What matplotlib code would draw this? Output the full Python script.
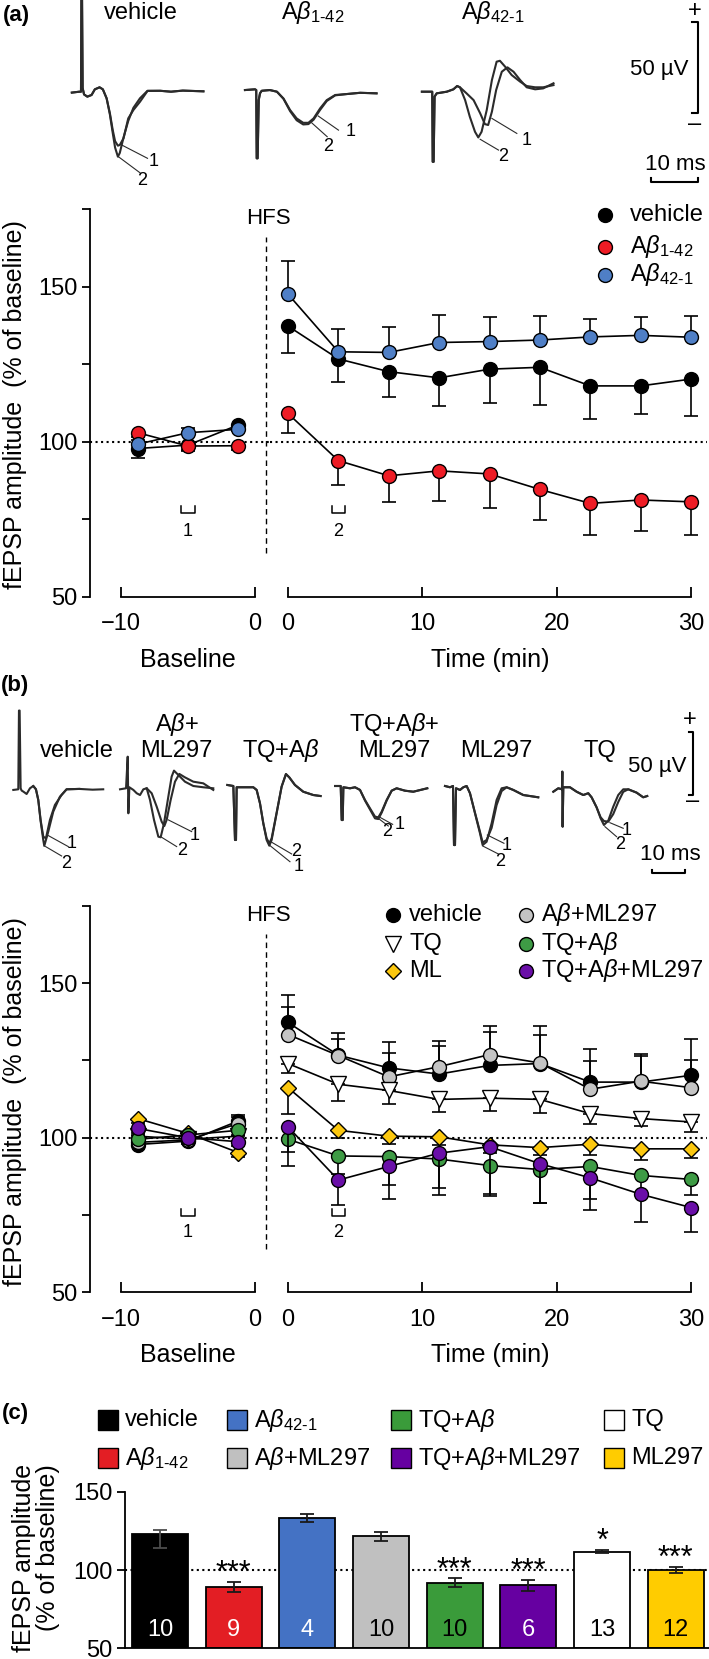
import numpy as np
import matplotlib
matplotlib.use("Agg")
import matplotlib.pyplot as plt
from matplotlib.lines import Line2D
from matplotlib.patches import Rectangle

W, H = 709, 1659

plt.rcParams["font.family"] = ["Liberation Sans", "DejaVu Sans"]
plt.rcParams["mathtext.fontset"] = "custom"
plt.rcParams["mathtext.rm"] = "Liberation Sans"
plt.rcParams["mathtext.it"] = "Liberation Sans:italic"
plt.rcParams["mathtext.bf"] = "Liberation Sans:bold"
plt.rcParams["axes.linewidth"] = 1.3

AB = r"A$\beta$"
AB142 = r"A$\beta_{1\text{-}42}$"
AB421 = r"A$\beta_{42\text{-}1}$"

# ---------------------------------------------------------------------------
# LTP time courses (% of baseline)
# ---------------------------------------------------------------------------
T_BASE = [-8.75, -5.0, -1.25]
T_POST = [0, 3.75, 7.5, 11.25, 15, 18.75, 22.5, 26.25, 30]

VEH_BASE = [97.8, 98.9, 105.4]
VEH_BASE_ERR = [3.2, 1.5, 1.8]
VEH_POST = [137.3, 126.7, 122.6, 120.6, 123.4, 124.0, 118.0, 118.0, 120.2]
VEH_POST_ERR = [8.8, 7.3, 8.3, 9.1, 10.8, 12.0, 10.8, 9.1, 11.9]

AB142_BASE = [102.9, 98.6, 98.7]
AB142_BASE_ERR = [1.5, 1.5, 1.5]
AB142_POST = [109.1, 93.9, 89.0, 90.6, 89.6, 84.6, 80.1, 81.2, 80.6]
AB142_POST_ERR = [6.2, 7.9, 8.6, 9.6, 11.1, 9.9, 10.2, 10.0, 10.7]

AB421_BASE = [99.2, 102.9, 104.0]
AB421_BASE_ERR = [1.5, 1.5, 1.5]
AB421_POST = [147.6, 129.0, 128.8, 132.0, 132.3, 132.8, 133.8, 134.3, 133.7]
AB421_POST_ERR = [10.8, 7.3, 8.3, 8.8, 7.8, 7.7, 5.7, 5.8, 6.8]

ABML_BASE = [98.5, 99.3, 104.6]
ABML_BASE_ERR = [1.5, 1.5, 2.0]
ABML_POST = [133.4, 126.6, 119.7, 123.0, 126.9, 124.2, 115.7, 118.3, 116.2]
ABML_POST_ERR = [9.0, 5.2, 7.6, 8.2, 9.2, 8.9, 9.1, 8.0, 9.1]

TQ_BASE = [100.5, 99.5, 100.5]
TQ_BASE_ERR = [1.5, 1.5, 1.5]
TQ_POST = [124.0, 117.3, 115.3, 112.4, 112.8, 112.4, 107.8, 106.2, 105.1]
TQ_POST_ERR = [3.0, 5.4, 4.5, 4.1, 4.0, 4.4, 3.2, 2.5, 3.2]

ML_BASE = [106.2, 101.4, 95.2]
ML_BASE_ERR = [1.5, 1.5, 1.5]
ML_POST = [116.2, 102.4, 100.5, 100.3, 97.7, 96.8, 97.9, 96.4, 96.4]
ML_POST_ERR = [8.4, 2.5, 2.5, 2.5, 2.5, 2.5, 3.4, 3.5, 3.0]

TQAB_BASE = [99.5, 100.9, 102.4]
TQAB_BASE_ERR = [1.5, 1.5, 1.5]
TQAB_POST = [99.5, 94.1, 93.9, 93.1, 91.0, 89.7, 90.7, 87.8, 86.5]
TQAB_POST_ERR = [8.8, 6.0, 9.2, 9.3, 9.3, 10.7, 10.4, 6.0, 5.0]

TQABML_BASE = [103.0, 100.0, 98.7]
TQABML_BASE_ERR = [1.5, 1.5, 1.5]
TQABML_POST = [103.5, 86.3, 90.7, 95.0, 97.1, 91.6, 87.0, 81.7, 77.4]
TQABML_POST_ERR = [8.0, 8.1, 10.4, 13.6, 16.1, 12.6, 10.4, 9.0, 7.9]

# ---------------------------------------------------------------------------
# bar chart (c): mean LTP 26-30 min
# ---------------------------------------------------------------------------
C_LABELS = ["vehicle", AB142, AB421, AB + "+ML297", "TQ+" + AB,
            "TQ+" + AB + "+ML297", "TQ", "ML297"]
C_VALUES = [123.2, 89.1, 133.4, 121.7, 91.9, 90.2, 111.7, 100.0]
C_ERR_LOW = [9.0, 3.1, 2.3, 2.9, 2.8, 3.8, 1.0, 1.9]
C_ERR_HIGH = [2.6, 3.1, 2.3, 2.9, 2.8, 3.8, 1.0, 1.9]
C_N = [10, 9, 4, 10, 10, 6, 13, 12]
C_STARS = ["", "***", "", "", "***", "***", "*", "***"]
C_COLORS = ["#000000", "#e31e24", "#4472c4", "#c0c0c0", "#3a9b3a",
            "#6600a1", "#ffffff", "#ffcc00"]
C_NUM_COLORS = ["white", "white", "white", "black", "black", "white",
                "black", "black"]

# ---------------------------------------------------------------------------
# example fEPSP traces (ms, uV from baseline)
# ---------------------------------------------------------------------------
VEH_A_T = [-2.1, -0.5, -0.15, -0.05, 0.05, 0.2, 0.5, 1.2, 2.1, 2.8, 3.8, 4.5, 5.3,
           6.0, 6.6, 7.1, 7.7, 8.1, 8.9, 9.9, 11.0, 12.4, 14.0, 16.7, 19.0, 21.5, 25.9]
VEH_A_V1 = [-0.5, 0, 0, 60, 60, 2, -1.5, -2.7, -1.8, 1.3, 2.4, 1.3, -3.6,
            -11.8, -20.9, -27.0, -29.5, -29.1, -25.5, -14.6, -10.0, -5.5, 0.4, 0.5, 0.0, 0.6, 0.2]
VEH_A_V2 = [-0.5, 0, 0, 60, 60, 2, -1.5, -2.7, -1.8, 1.3, 2.4, 1.3, -3.6,
            -12.5, -22.5, -30.5, -35.5, -33.5, -25.0, -16.0, -8.8, -3.6, 0.5, 0.5, 0.0, 0.6, 0.2]

AB142_A_T = [-2.5, -0.35, -0.1, 0.0, 0.2, 0.43, 0.7, 1.06, 2.8, 4.3, 5.7, 7.1, 8.5,
             9.9, 11.0, 12.1, 13.5, 14.9, 16.7, 19.1, 22.0, 25.5]
AB142_A_V1 = [0, 0.4, 0, -37.3, -37.3, -5.5, -1.8, -0.4, 0, -0.9, -4.6, -10.9, -15.5,
              -17.9, -17.9, -15.5, -10.0, -5.5, -2.7, -2.2, -1.5, -1.8]
AB142_A_V2 = [0, 0.4, 0, -37.3, -37.3, -5.5, -1.8, -0.4, 0, -0.9, -4.8, -11.5, -16.5,
              -18.8, -18.6, -16.2, -10.8, -6.0, -2.9, -2.2, -1.5, -1.8]

AB421_A_T1 = [-2.3, -0.5, -0.1, 0.0, 0.2, 0.4, 0.85, 3.0, 4.4, 5.2, 5.8, 7.2, 8.7,
              10.1, 11.1, 11.8, 12.6, 13.5, 14.7, 15.9, 17.2, 18.6, 20.0, 21.8, 23.5, 25.7]
AB421_A_V1 = [0, 0, 0, -38.3, -38.3, -2.7, -0.9, 0, 1.3, 3.1, 2.4, -0.9, -4.6,
              -11.8, -17.7, -18.2, -10.9, 0.9, 10.9, 13.3, 10.9, 6.4, 2.4, 1.3, 1.8, 4.6]
AB421_A_T2 = [-2.3, -0.5, -0.1, 0.0, 0.2, 0.4, 0.85, 3.0, 4.4, 5.2, 5.8, 6.9, 7.9,
              9.0, 9.7, 10.4, 11.5, 12.6, 13.6, 14.3, 15.4, 16.8, 18.6, 20.0, 21.8, 23.5, 25.7]
AB421_A_V2 = [0, 0, 0, -38.3, -38.3, -2.7, -0.9, 0, 1.3, 3.1, 2.4, -4.6, -13.7,
              -21.9, -25.0, -21.9, -10.0, 6.4, 16.4, 16.9, 13.7, 9.1, 5.5, 3.1, 2.4, 2.4, 3.6]

VEH_B_T1 = [-1.8, -0.3, -0.1, 0.1, 0.4, 0.7, 1.2, 2.2, 3.2, 4.2, 5.0, 5.7, 6.4, 7.2,
            8.0, 9.2, 10.7, 12.7, 14.2, 18.0, 22.0, 25.2]
VEH_B_V1 = [-0.5, 0.0, 62.0, 62.0, 0.8, -1.0, -1.8, -3.7, 0.8, 2.6, 0.0, -8.4, -24.1, -37.3,
            -38.6, -24.1, -12.3, -4.5, 0.0, 0.3, -0.3, 0.0]
VEH_B_T2 = [4.2, 5.0, 5.7, 6.4, 7.2, 7.5, 8.7, 10.2, 12.2, 14.2, 18.0]
VEH_B_V2 = [2.6, 0.0, -8.4, -25.0, -40.0, -44.6, -33.3, -17.6, -5.8, 0.0, 0.3]

ABML_B_T1 = [-2.3, -0.5, 0.0, 0.2, 0.5, 1.7, 2.7, 3.7, 4.7, 5.7, 7.2, 8.7, 10.2, 11.0,
             11.7, 12.9, 14.2, 15.5, 17.2, 19.7, 22.7, 25.7]
ABML_B_V1 = [0, 0.8, 25.7, -18.9, 1.6, -0.5, -3.1, -4.5, 0, 0.8, -3.1, -13.6, -25.5, -28.9,
             -24.1, -8.4, 6.0, 12.1, 9.4, 6.0, 4.7, -0.5]
ABML_B_T2 = [5.7, 6.7, 7.9, 9.2, 9.9, 10.9, 12.2, 13.2, 13.9, 15.2, 17.2, 19.7, 22.7, 25.7]
ABML_B_V2 = [0.8, -8.4, -24.1, -37.3, -37.8, -26.8, -5.8, 10.0, 14.7, 11.3, 6.0, 2.6, 1.6, 0.8]

TQAB_B_T = [-2.3, -0.5, 0.0, 0.3, 0.5, 2.5, 5.5, 6.5, 7.5, 8.5, 9.5, 10.3, 11.0, 12.5,
            14.0, 15.3, 16.3, 18.0, 20.5, 23.5, 25.7]
TQAB_B_V1 = [0.8, 0, -42.5, -42.5, -1, -1, -1, -3.1, -13.6, -29.4, -42.5, -47.0, -42.5, -21.5,
             -0.5, 9.4, 6.8, 0.8, -4.5, -7.1, -7.9]
TQAB_B_V2 = [0.8, 0, -42.5, -42.5, -1, -1, -1, -3.1, -13.6, -29.4, -41.2, -45.1, -41.2, -21.0,
             -0.5, 9.4, 6.8, 0.8, -4.5, -7.1, -7.9]

TQABML_B_T = [-2.0, -0.3, 0.0, 0.3, 0.5, 2.5, 4.0, 5.5, 7.0, 8.5, 10.0, 11.0, 12.0, 13.5,
              15.0, 16.5, 19.0, 21.5, 25.7]
TQABML_B_V1 = [0, 0, -26.8, -26.8, -1, -1.8, -1, -3.1, -11, -17.6, -24.1, -24.7, -20.2, -11,
               -3.7, -1.8, -3.7, -4.5, -1.8]
TQABML_B_V2 = [0, 0, -26.8, -26.8, -1, -1.8, -1, -3.1, -11.5, -18.5, -25.5, -26.0, -21.0, -11.5,
               -3.7, -1.8, -3.7, -4.5, -1.8]

ML_B_T = [-2.7, -1.2, -0.3, 0.0, 0.3, 0.6, 1.8, 2.8, 3.8, 4.8, 6.3, 7.8, 8.6, 9.8, 11.3,
          12.8, 14.3, 15.8, 17.8, 20.8, 25.3]
ML_B_V1 = [0, -1, 0, -46.5, -46.5, -1.8, -3.1, -1, 0, -5.7, -21.0, -36.0, -44.5, -42.5, -33.0,
           -15.0, -4.0, -1.0, -3.1, -7.1, -8.9]
ML_B_V2 = [0, -1, 0, -46.5, -46.5, -1.8, -3.1, -1, 0, -5.7, -21.5, -37.2, -46.5, -43.9, -29.4,
           -11, -1.8, -1, -3.1, -7.1, -8.9]

TQ_B_T = [-2.7, -1.2, -0.1, 0.0, 0.1, 0.3, 2.3, 4.3, 6.3, 7.8, 8.8, 10.3, 11.5, 12.5, 13.8,
          15.3, 16.8, 18.3, 19.8, 22.3, 24.3, 25.5]
TQ_B_V1 = [-1.9, 0.8, 0, 13.9, -29.4, 1.6, 1.6, -1.9, -4.5, -3.1, -6.3, -14.2, -22.0, -25.0, -25.5,
           -19.5, -10.0, -2.0, 0, -2.6, -6.3, -5.3]
TQ_B_V2 = [-1.9, 0.8, 0, 13.9, -29.4, 1.6, 1.6, -1.9, -4.5, -3.1, -6.3, -14.2, -22.8, -28.1, -24.7,
           -13.7, -4.5, 0, 0, -2.6, -6.3, -5.3]

SCALE_UV = 50
SCALE_MS = 10


def box(x0, y0, x1, y1):
    # pixel box, origin top-left -> figure rect
    return [x0 / W, 1 - y1 / H, (x1 - x0) / W, (y1 - y0) / H]


def fx(x):
    return x / W


def fy(y):
    return 1 - y / H


fig = plt.figure(figsize=(W / 100, H / 100), dpi=100)
TRACE_COL = "#2b2b2b"


def trace(ax, t, v, t0, dv):
    ax.plot(np.asarray(t) + t0, np.asarray(v) + dv, color=TRACE_COL, lw=1.5,
            solid_joinstyle="round")


def tag(ax, t0, dv, txt, tx, ty, p0, p1):
    ax.plot([p0[0] + t0, p1[0] + t0], [p0[1] + dv, p1[1] + dv], color=TRACE_COL, lw=0.8)
    ax.text(tx + t0, ty + dv, txt, ha="center", va="center", fontsize=13)


def scalebar(ax, tx, vtop, th, vh, tick_t, tick_v):
    ax.plot([tx - tick_t, tx, tx, tx - tick_t], [vtop, vtop, vtop - SCALE_UV, vtop - SCALE_UV],
            color="k", lw=1.5)
    ax.plot([th - SCALE_MS, th - SCALE_MS, th, th], [vh + tick_v, vh, vh, vh + tick_v],
            color="k", lw=1.5)


# ---------------------------------------------------------------------------
# (a) traces
# ---------------------------------------------------------------------------
PX_MS_A, PX_UV_A, BASE_A = 4.7, 1.83, 91.7
ta = fig.add_axes(box(0, 0, W, 200))
ta.set_xlim(0, W / PX_MS_A)
ta.set_ylim(-(200 - BASE_A) / PX_UV_A, BASE_A / PX_UV_A)
ta.axis("off")

t0a = [81.7 / PX_MS_A, 256.7 / PX_MS_A, 432.7 / PX_MS_A]
dva = [0, 0.9, 0]
trace(ta, VEH_A_T, VEH_A_V1, t0a[0], dva[0])
trace(ta, VEH_A_T, VEH_A_V2, t0a[0], dva[0])
tag(ta, t0a[0], dva[0], "1", 15.4, -38.3, (8.5, -29.1), (14.0, -36.4))
tag(ta, t0a[0], dva[0], "2", 12.8, -48.3, (7.8, -35.5), (12.4, -44.3))
trace(ta, AB142_A_T, AB142_A_V1, t0a[1], dva[1])
trace(ta, AB142_A_T, AB142_A_V2, t0a[1], dva[1])
tag(ta, t0a[1], dva[1], "1", 19.9, -22.8, (13.1, -14.2), (17.4, -21.9))
tag(ta, t0a[1], dva[1], "2", 15.2, -31.0, (11.7, -17.9), (15.0, -25.5))
trace(ta, AB421_A_T1, AB421_A_V1, t0a[2], dva[2])
trace(ta, AB421_A_T2, AB421_A_V2, t0a[2], dva[2])
tag(ta, t0a[2], dva[2], "1", 20.0, -26.4, (12.6, -14.6), (17.9, -22.8))
tag(ta, t0a[2], dva[2], "2", 15.0, -35.2, (10.1, -26.0), (14.0, -31.9))
scalebar(ta, 698 / PX_MS_A, (BASE_A - 21.7) / PX_UV_A, 698 / PX_MS_A,
         (BASE_A - 181.7) / PX_UV_A, 1.2, 1.8)

fig.text(fx(16), fy(15), "(a)", fontsize=16, fontweight="bold", ha="center", va="center")
fig.text(fx(141), fy(19), "vehicle", fontsize=17, ha="center", va="baseline")
fig.text(fx(313), fy(19), AB142, fontsize=17, ha="center", va="baseline")
fig.text(fx(493), fy(19), AB421, fontsize=17, ha="center", va="baseline")
fig.text(fx(695), fy(11), "+", fontsize=17, ha="center", va="center")
fig.text(fx(695), fy(124), "\u2013", fontsize=17, ha="center", va="center")
fig.text(fx(689), fy(70), "50 \u00b5V", fontsize=16, ha="right", va="center")
fig.text(fx(675), fy(164), "10 ms", fontsize=16, ha="center", va="center")

# ---------------------------------------------------------------------------
# (b) traces
# ---------------------------------------------------------------------------
PX_MS_B, PX_UV_B, BASE_B = 3.33, 1.27, 789.3
tb = fig.add_axes(box(0, 700, W, 900))
tb.set_xlim(0, W / PX_MS_B)
tb.set_ylim(-(900 - BASE_B) / PX_UV_B, (BASE_B - 700) / PX_UV_B)
tb.axis("off")

t0b = [x / PX_MS_B for x in (19.3, 127.7, 235.0, 341.7, 454.0, 562.3)]
dvb = [0, 0, 2.6, 2.6, 2.6, 0]
trace(tb, VEH_B_T1, VEH_B_V1, t0b[0], dvb[0])
trace(tb, VEH_B_T2, VEH_B_V2, t0b[0], dvb[0])
tag(tb, t0b[0], dvb[0], "1", 15.7, -43.0, (8.4, -36.0), (14.7, -45.1))
tag(tb, t0b[0], dvb[0], "2", 14.2, -58.8, (7.9, -45.1), (12.7, -52.5))
trace(tb, ABML_B_T1, ABML_B_V1, t0b[1], dvb[1])
trace(tb, ABML_B_T2, ABML_B_V2, t0b[1], dvb[1])
tag(tb, t0b[1], dvb[1], "1", 20.2, -36.0, (12.2, -24.1), (19.2, -33.3))
tag(tb, t0b[1], dvb[1], "2", 16.2, -47.8, (10.2, -37.8), (14.7, -45.1))
trace(tb, TQAB_B_T, TQAB_B_V1, t0b[2], dvb[2])
trace(tb, TQAB_B_T, TQAB_B_V2, t0b[2], dvb[2])
tag(tb, t0b[2], dvb[2], "2", 18.5, -51.7, (10.7, -43.8), (17.0, -53.5))
tag(tb, t0b[2], dvb[2], "1", 19.0, -63.5, (10.3, -46.5), (16.5, -59.6))
trace(tb, TQABML_B_T, TQABML_B_V1, t0b[3], dvb[3])
trace(tb, TQABML_B_T, TQABML_B_V2, t0b[3], dvb[3])
tag(tb, t0b[3], dvb[3], "1", 17.5, -30.7, (11.1, -24.1), (15.3, -30.2))
tag(tb, t0b[3], dvb[3], "2", 13.7, -36.0, (11.0, -25.5), (14.0, -31.5))
trace(tb, ML_B_T, ML_B_V1, t0b[4], dvb[4])
trace(tb, ML_B_T, ML_B_V2, t0b[4], dvb[4])
tag(tb, t0b[4], dvb[4], "1", 15.8, -46.5, (10.0, -38.6), (15.0, -45.1))
tag(tb, t0b[4], dvb[4], "2", 14.0, -59.6, (8.6, -47.2), (13.3, -53.5))
trace(tb, TQ_B_T, TQ_B_V1, t0b[5], dvb[5])
trace(tb, TQ_B_T, TQ_B_V2, t0b[5], dvb[5])
tag(tb, t0b[5], dvb[5], "1", 19.3, -32.6, (14.3, -26.3), (18.3, -30.7))
tag(tb, t0b[5], dvb[5], "2", 17.3, -43.1, (12.8, -29.4), (16.3, -37.3))
scalebar(tb, 693.3 / PX_MS_B, (BASE_B - 731.7) / PX_UV_B, 685 / PX_MS_B,
         (BASE_B - 872.7) / PX_UV_B, 1.4, 2.2)

fig.text(fx(15), fy(685), "(b)", fontsize=16, fontweight="bold", ha="center", va="center")
for x, txt in [(76.7, "vehicle"), (176.7, "ML297"), (280.7, "TQ+" + AB),
               (394, "ML297"), (496.7, "ML297"), (600, "TQ")]:
    fig.text(fx(x), fy(757), txt, fontsize=17, ha="center", va="baseline")
fig.text(fx(176.7), fy(731), AB + "+", fontsize=17, ha="center", va="baseline")
fig.text(fx(394), fy(731), "TQ+" + AB + "+", fontsize=17, ha="center", va="baseline")
fig.text(fx(690), fy(720), "+", fontsize=17, ha="center", va="center")
fig.text(fx(693), fy(801), "\u2013", fontsize=17, ha="center", va="center")
fig.text(fx(686.7), fy(766.7), "50 \u00b5V", fontsize=16, ha="right", va="center")
fig.text(fx(670), fy(855), "10 ms", fontsize=16, ha="center", va="center")


# ---------------------------------------------------------------------------
# LTP panels
# ---------------------------------------------------------------------------
def ltp_axes(y_top, y_bot):
    axb = fig.add_axes(box(90, y_top, 270, y_bot))
    axp = fig.add_axes(box(270, y_top, 707, y_bot))
    for ax in (axb, axp):
        ax.set_ylim(50, 175)
        ax.patch.set_visible(False)
        for s in ("top", "right"):
            ax.spines[s].set_visible(False)
        ax.tick_params(axis="x", direction="in", length=7, width=1.3, pad=12, labelsize=17)
        ax.axhline(100, color="k", ls=":", lw=1.5, zorder=1)
    axb.set_xlim(-12.31, 1.12)
    axp.set_xlim(-1.34, 31.19)
    axb.spines["bottom"].set_bounds(-10, 0)
    axp.spines["bottom"].set_bounds(0, 30)
    axb.set_xticks([-10, 0])
    axp.set_xticks([0, 10, 20, 30])
    axb.set_yticks([50, 75, 100, 125, 150, 175])
    axb.set_yticklabels(["50", "", "100", "", "150", ""])
    axb.tick_params(axis="y", direction="out", length=6, width=1.3, pad=3, labelsize=17)
    axp.spines["left"].set_visible(False)
    axp.tick_params(axis="y", left=False, labelleft=False)
    axb.vlines(0.85, 64, 166, colors="k", linestyles=(0, (4, 3)), lw=1.0)
    axb.text(0.97, 172, "HFS", ha="center", va="center", fontsize=16)
    return axb, axp


def one_sided(err, up):
    z = [0] * len(err)
    return [z, err] if up else [err, z]


def series(axb, axp, base, base_err, post, post_err, up, marker, color, ms, z):
    for ax, t, v, e in ((axb, T_BASE, base, base_err), (axp, T_POST, post, post_err)):
        ax.errorbar(t, v, yerr=one_sided(e, up), fmt="none", ecolor="k", elinewidth=1.2,
                    capsize=4.8, capthick=1.2, zorder=z)
        ax.plot(t, v, color="k", lw=1.2, marker=marker, ms=ms, mfc=color, mec="k",
                mew=1.0, zorder=z + 0.5, clip_on=False)


def bracket(ax, t, y, label, dy):
    ax.plot([t - 0.5, t - 0.5, t + 0.5, t + 0.5], [y + 2.2, y, y, y + 2.2], color="k", lw=1.1)
    ax.text(t, y - dy, label, ha="center", va="center", fontsize=13)


def legend_entry(x, y, marker, color, ms, label, tx):
    fig.add_artist(Line2D([fx(x)], [fy(y)], transform=fig.transFigure, marker=marker,
                          ms=ms, mfc=color, mec="k", mew=1.0, ls="none"))
    fig.text(fx(tx), fy(y), label, fontsize=17, ha="left", va="center")


RED, BLUE, GRAY = "#ee1c25", "#4f7fc6", "#c4c4c4"
GREEN, PURPLE, YELLOW = "#3e9b45", "#6a0fa8", "#fcc80f"
MS = 10

# (a)
axb, axp = ltp_axes(209.2, 596.7)
series(axb, axp, VEH_BASE, VEH_BASE_ERR, VEH_POST, VEH_POST_ERR, False, "o", "k", MS, 3)
series(axb, axp, AB142_BASE, AB142_BASE_ERR, AB142_POST, AB142_POST_ERR, False, "o", RED, MS, 4)
series(axb, axp, AB421_BASE, AB421_BASE_ERR, AB421_POST, AB421_POST_ERR, True, "o", BLUE, MS, 5)
bracket(axb, T_BASE[1], 77, "1", 6)
bracket(axp, T_POST[1], 77, "2", 6)
legend_entry(604.5, 215, "o", "k", MS, "vehicle", 629.5)
legend_entry(604.5, 246.7, "o", RED, MS, AB142, 629.5)
legend_entry(604.5, 275, "o", BLUE, MS, AB421, 629.5)
fig.text(fx(15), fy(405), "fEPSP amplitude  (% of baseline)", rotation=90, fontsize=18,
         ha="center", va="center")
fig.text(fx(188), fy(660), "Baseline", fontsize=18, ha="center", va="center")
fig.text(fx(490), fy(660), "Time (min)", fontsize=18, ha="center", va="center")

# (b)
axb, axp = ltp_axes(906, 1292.2)
series(axb, axp, VEH_BASE, VEH_BASE_ERR, VEH_POST, VEH_POST_ERR, True, "o", "k", MS, 3)
series(axb, axp, ABML_BASE, ABML_BASE_ERR, ABML_POST, ABML_POST_ERR, True, "o", GRAY, MS, 4)
series(axb, axp, TQ_BASE, TQ_BASE_ERR, TQ_POST, TQ_POST_ERR, False, "v", "white", MS + 1, 5)
series(axb, axp, ML_BASE, ML_BASE_ERR, ML_POST, ML_POST_ERR, False, "D", YELLOW, 8, 6)
series(axb, axp, TQAB_BASE, TQAB_BASE_ERR, TQAB_POST, TQAB_POST_ERR, False, "o", GREEN, MS, 7)
series(axb, axp, TQABML_BASE, TQABML_BASE_ERR, TQABML_POST, TQABML_POST_ERR, False, "o",
       PURPLE, MS, 8)
bracket(axb, T_BASE[1], 74.8, "1", 5.5)
bracket(axp, T_POST[1], 74.8, "2", 5.5)
legend_entry(393, 915, "o", "k", MS, "vehicle", 409)
legend_entry(393, 944, "v", "white", MS + 1, "TQ", 409)
legend_entry(393, 971, "D", YELLOW, 8, "ML", 409)
legend_entry(526, 915, "o", GRAY, MS, AB + "+ML297", 541)
legend_entry(526, 944, "o", GREEN, MS, "TQ+" + AB, 541)
legend_entry(526, 971, "o", PURPLE, MS, "TQ+" + AB + "+ML297", 541)
fig.text(fx(15), fy(1102), "fEPSP amplitude  (% of baseline)", rotation=90, fontsize=18,
         ha="center", va="center")
fig.text(fx(188), fy(1355), "Baseline", fontsize=18, ha="center", va="center")
fig.text(fx(490), fy(1355), "Time (min)", fontsize=18, ha="center", va="center")

# ---------------------------------------------------------------------------
# (c) bars
# ---------------------------------------------------------------------------
axc = fig.add_axes(box(125, 1492, 709, 1648.3))
xs = np.arange(len(C_VALUES))
vals = np.array(C_VALUES)
axc.axhline(100, color="k", ls=":", lw=1.5, zorder=1)
axc.bar(xs, vals - 50, bottom=50, width=0.76, color=C_COLORS, edgecolor="k", lw=1.3, zorder=2)
axc.errorbar(xs[:1], vals[:1], yerr=[C_ERR_LOW[:1], C_ERR_HIGH[:1]], fmt="none",
             ecolor="0.3", elinewidth=1.3, capsize=5, capthick=1.3, zorder=3)
axc.errorbar(xs[1:], vals[1:], yerr=[C_ERR_LOW[1:], C_ERR_HIGH[1:]], fmt="none",
             ecolor="#1a1a1a", elinewidth=1.3, capsize=5, capthick=1.3, zorder=3)
for i in xs:
    axc.text(i, 61.7, str(C_N[i]), ha="center", va="center", fontsize=17,
             color=C_NUM_COLORS[i], zorder=4)
    if C_STARS[i]:
        axc.text(i, vals[i] + C_ERR_HIGH[i], C_STARS[i], ha="center", va="baseline",
                 fontsize=22, zorder=4)
axc.set_xlim(-0.475, 7.45)
axc.set_ylim(50, 150)
axc.set_xticks([])
axc.set_yticks([50, 100, 150])
axc.tick_params(axis="y", direction="out", length=6, width=1.3, pad=3, labelsize=17)
for s in ("top", "right"):
    axc.spines[s].set_visible(False)

fig.text(fx(15), fy(1414), "(c)", fontsize=16, fontweight="bold", ha="center", va="center")
fig.text(fx(36), fy(1558), "fEPSP amplitude\n(% of baseline)", rotation=90, fontsize=18,
         ha="center", va="center", linespacing=1.05, multialignment="right")
leg_cols = [108, 237, 401, 614]
leg_rows = [1420, 1458]
for k, lab in enumerate(C_LABELS):
    cx, cy = leg_cols[k // 2], leg_rows[k % 2]
    fig.add_artist(Rectangle((fx(cx - 10), fy(cy + 10)), 20 / W, 20 / H,
                             transform=fig.transFigure, facecolor=C_COLORS[k],
                             edgecolor="k", lw=1.0))
    fig.text(fx(cx + 17), fy(cy), lab, fontsize=17, ha="left", va="center")

fig.savefig("out.png", dpi=100)
